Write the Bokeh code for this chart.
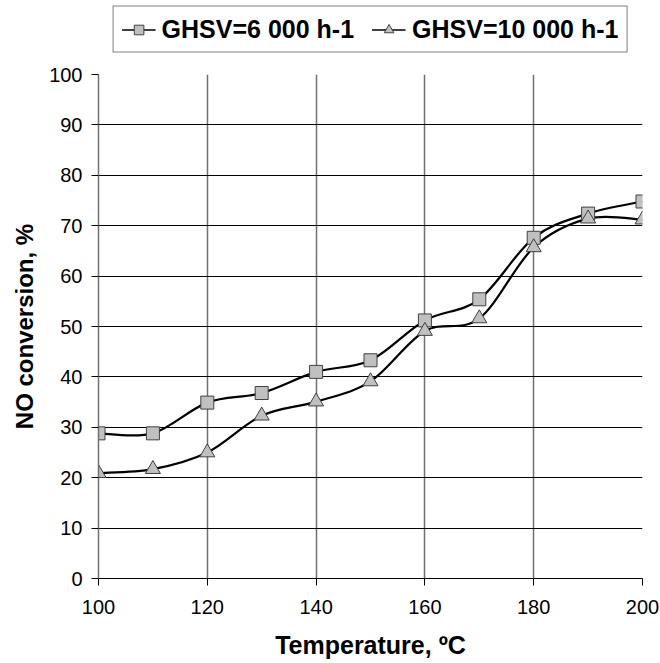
import numpy as np
from bokeh.plotting import figure
from bokeh.layouts import column
from bokeh.models import Legend, LegendItem, FixedTicker, Range1d
from bokeh.embed import file_html
from bokeh.resources import INLINE

temps = [100, 110, 120, 130, 140, 150, 160, 170, 180, 190, 200]
ghsv_6000 = [28.8, 28.8, 34.9, 36.8, 41.0, 43.3, 51.2, 55.4, 67.6, 72.4, 74.8]
ghsv_10000 = [20.9, 21.7, 25.0, 32.3, 35.1, 39.1, 49.1, 51.6, 65.7, 71.4, 71.2]
series_labels = ["GHSV=6 000 h-1", "GHSV=10 000 h-1"]
x_ticks = [100, 120, 140, 160, 180, 200]
y_ticks = list(range(0, 101, 10))

FONT = "Liberation Sans"
MARK_FILL = "#c0c0c0"
MARK_LINE = "#404040"

p = figure(width=660, height=605, output_backend="svg", toolbar_location=None,
           x_range=Range1d(100, 200), y_range=Range1d(0, 100),
           min_border_left=98, min_border_right=18, min_border_top=16, min_border_bottom=85)
p.outline_line_color = None
p.background_fill_color = "white"

# grid
p.xgrid.ticker = FixedTicker(ticks=x_ticks)
p.ygrid.ticker = FixedTicker(ticks=y_ticks)
p.xgrid.grid_line_color = "#707070"
p.xgrid.grid_line_width = 1.5
p.ygrid.grid_line_color = "black"
p.ygrid.grid_line_width = 1.2

# axes
p.xaxis.ticker = FixedTicker(ticks=x_ticks)
p.yaxis.ticker = FixedTicker(ticks=y_ticks)
for ax in (p.xaxis[0], p.yaxis[0]):
    ax.major_label_text_font = FONT
    ax.major_label_text_font_size = "20px"
    ax.major_label_text_color = "black"
    ax.axis_label_text_font = FONT
    ax.axis_label_text_font_style = "bold"
    ax.axis_label_text_color = "black"
    ax.minor_tick_line_color = None
    ax.major_tick_in = 0
    ax.major_tick_out = 7
    ax.major_tick_line_color = "black"
p.xaxis.axis_label_text_font_size = "25px"
p.yaxis.axis_label_text_font_size = "24px"
p.xaxis.axis_line_color = "black"
p.xaxis.axis_line_width = 1.2
p.yaxis.axis_line_color = "#707070"
p.yaxis.axis_line_width = 1.5
p.xaxis.axis_label = "Temperature, ºC"
p.yaxis.axis_label = "NO conversion, %"
p.xaxis.major_label_standoff = 14
p.xaxis.axis_label_standoff = 14
p.yaxis.major_label_standoff = 9
p.yaxis.axis_label_standoff = 8


def smooth(xs, ys, t=1.0 / 6.0):
    xs = np.asarray(xs, float)
    ys = np.asarray(ys, float)
    n = len(xs)
    x0, y0, x1, y1, cx0, cy0, cx1, cy1 = [], [], [], [], [], [], [], []
    for i in range(n - 1):
        pm = max(i - 1, 0)
        pp = min(i + 2, n - 1)
        x0.append(xs[i]); y0.append(ys[i])
        x1.append(xs[i + 1]); y1.append(ys[i + 1])
        cx0.append(xs[i] + (xs[i + 1] - xs[pm]) * t)
        cy0.append(ys[i] + (ys[i + 1] - ys[pm]) * t)
        cx1.append(xs[i + 1] - (xs[pp] - xs[i]) * t)
        cy1.append(ys[i + 1] - (ys[pp] - ys[i]) * t)
    return dict(x0=x0, y0=y0, x1=x1, y1=y1, cx0=cx0, cy0=cy0, cx1=cx1, cy1=cy1)


for ys in (ghsv_6000, ghsv_10000):
    p.bezier(line_color="black", line_width=2.2, **smooth(temps, ys))

p.scatter(temps, ghsv_6000, marker="square", size=13,
          fill_color=MARK_FILL, line_color=MARK_LINE, line_width=1)
p.scatter(temps, ghsv_10000, marker="triangle", size=15,
          fill_color=MARK_FILL, line_color=MARK_LINE, line_width=1)

# ---- legend strip above the chart ----
lg = figure(width=660, height=58, output_backend="svg", toolbar_location=None,
            x_range=Range1d(0, 1), y_range=Range1d(0, 1),
            min_border_left=98, min_border_right=18, min_border_top=0, min_border_bottom=0)
lg.axis.visible = False
lg.grid.visible = False
lg.outline_line_color = None

# legend glyphs (drawn off-range so only the legend shows them)
l1 = lg.line([-5, -4], [-5, -4], line_color="black", line_width=1.5)
m1 = lg.scatter([-5], [-5], marker="square", size=11,
                fill_color=MARK_FILL, line_color=MARK_LINE, line_width=1)
l2 = lg.line([-5, -4], [-5, -4], line_color="black", line_width=1.5)
m2 = lg.scatter([-5], [-5], marker="triangle", size=13,
                fill_color=MARK_FILL, line_color=MARK_LINE, line_width=1)

legend = Legend(items=[LegendItem(label=series_labels[0], renderers=[l1, m1]),
                       LegendItem(label=series_labels[1], renderers=[l2, m2])],
                orientation="horizontal", location="center",
                label_text_font=FONT, label_text_font_size="25px",
                label_text_font_style="bold", label_text_color="black",
                border_line_color="black", border_line_width=1.2,
                background_fill_color="white", background_fill_alpha=1.0,
                glyph_width=34, glyph_height=24, spacing=18, padding=8,
                label_standoff=6, margin=0)
lg.add_layout(legend, "center")

layout = column(lg, p, spacing=0)
open("out.html", "w").write(file_html(layout, INLINE))
